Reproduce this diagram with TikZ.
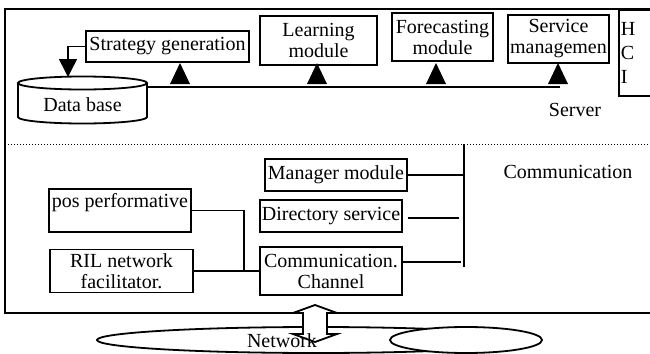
\documentclass[tikz,border=0pt]{standalone}
\usepackage{fontspec}
\setmainfont{Liberation Serif}
\usepackage{tikz}
\usetikzlibrary{calc,arrows.meta}

\begin{document}
\begin{tikzpicture}[x=0.5pt,y=-0.5pt,
	box/.style={draw,line width=0.9pt,inner sep=1pt,align=center,font=\fontsize{10}{10.5}\selectfont},
	wire/.style={line width=0.8pt},
	frame/.style={line width=1.2pt}]
	\useasboundingbox (0,0) rectangle (650,354);
	
	\draw[frame] (654,9) -- (5,9) -- (5,313) -- (654,313);
	\draw[line width=0.5pt,dash pattern=on 0.5pt off 1pt] (5,144) -- (650,144);
	
	% server side
	\node[box,minimum width=81.5pt,minimum height=15.5pt] (strat) at (167.5,46.5) {Strategy generation};
	\node[box,minimum width=58.5pt,minimum height=24.5pt] (learn) at (318.5,40.5) {Learning\\module};
	\node[box,minimum width=50.5pt,minimum height=24pt] (fore) at (442.5,37) {Forecasting\\module};
	\node[box,minimum width=50.5pt,minimum height=24pt] (serv) at (558.5,39) {Service\\managemen};
	\node[box,anchor=north west,text width=18pt,minimum height=43pt,align=left,
	font=\fontsize{10}{12}\selectfont] (hci) at (618,9) {H\\C\\I};
	
	\node (db) at (82.5,105) {Data base};
	\draw[line width=0.9pt] (82.5,83) ellipse (64.5 and 6.5);
	\draw[line width=0.9pt] (18,83) -- (18,117)
	arc[start angle=180,end angle=0,x radius=64.5,y radius=6.5] -- (147,83);
	
	\coordinate (dbin) at (68,77);
	\draw[wire,-{Triangle[length=9pt,width=9pt]}] (strat.west) -| (dbin);
	
	\draw[wire] (147,87) -- (560,87);
	\foreach \tx in {180,317,436,558}
	\fill (\tx-10,84) -- (\tx,63) -- (\tx+10,84) -- cycle;
	
	\node (srv) at (575,110) {Server};
	
	% communication side
	\node[box,minimum width=71pt,minimum height=16pt] (mgr) at (336,175) {Manager module};
	\node[box,minimum width=71pt,minimum height=16pt] (dir) at (331,216) {Directory service};
	\node[box,minimum width=71pt,minimum height=24pt] (chan) at (331,271) {Communication.\\Channel};
	\node[box,minimum width=71pt,minimum height=21.5pt] (pos) at (120,210.5) {pos performative\\\mbox{}};
	\node[box,minimum width=71.5pt,minimum height=21.5pt] (ril) at (121.5,271) {RIL network\\facilitator.};
	\node (comm) at (568,172) {Communication};
	
	\coordinate (vtop) at (464,144);
	\coordinate (vbot) at (464,267);
	\draw[wire] (vtop) -- (vbot);
	\draw[wire] (mgr.east) -- (mgr.east -| vtop);
	\draw[wire] ($(dir.east)+(5,2)$) -- ++(51,0);
	\draw[wire] ($(chan.east)+(0,-9)$) -- ++(58,0);
	
	\coordinate (jn) at (244,271);
	\draw[wire] (ril.east) -- (chan.west);
	\draw[wire] (pos.east) -| (jn);
	
	% network
	\draw[line width=0.9pt] (316,340) ellipse (219 and 13);
	\draw[line width=0.9pt,fill=white] (466,340) ellipse (76 and 13);
	\draw[line width=0.9pt,fill=white] (315,305) -- (337,313) -- (327,313) -- (327,334)
	-- (337,334) -- (315,342) -- (293,334) -- (303,334) -- (303,313) -- (293,313) -- cycle;
	\node (net) at (282,341) {Network};
\end{tikzpicture}
\end{document}
